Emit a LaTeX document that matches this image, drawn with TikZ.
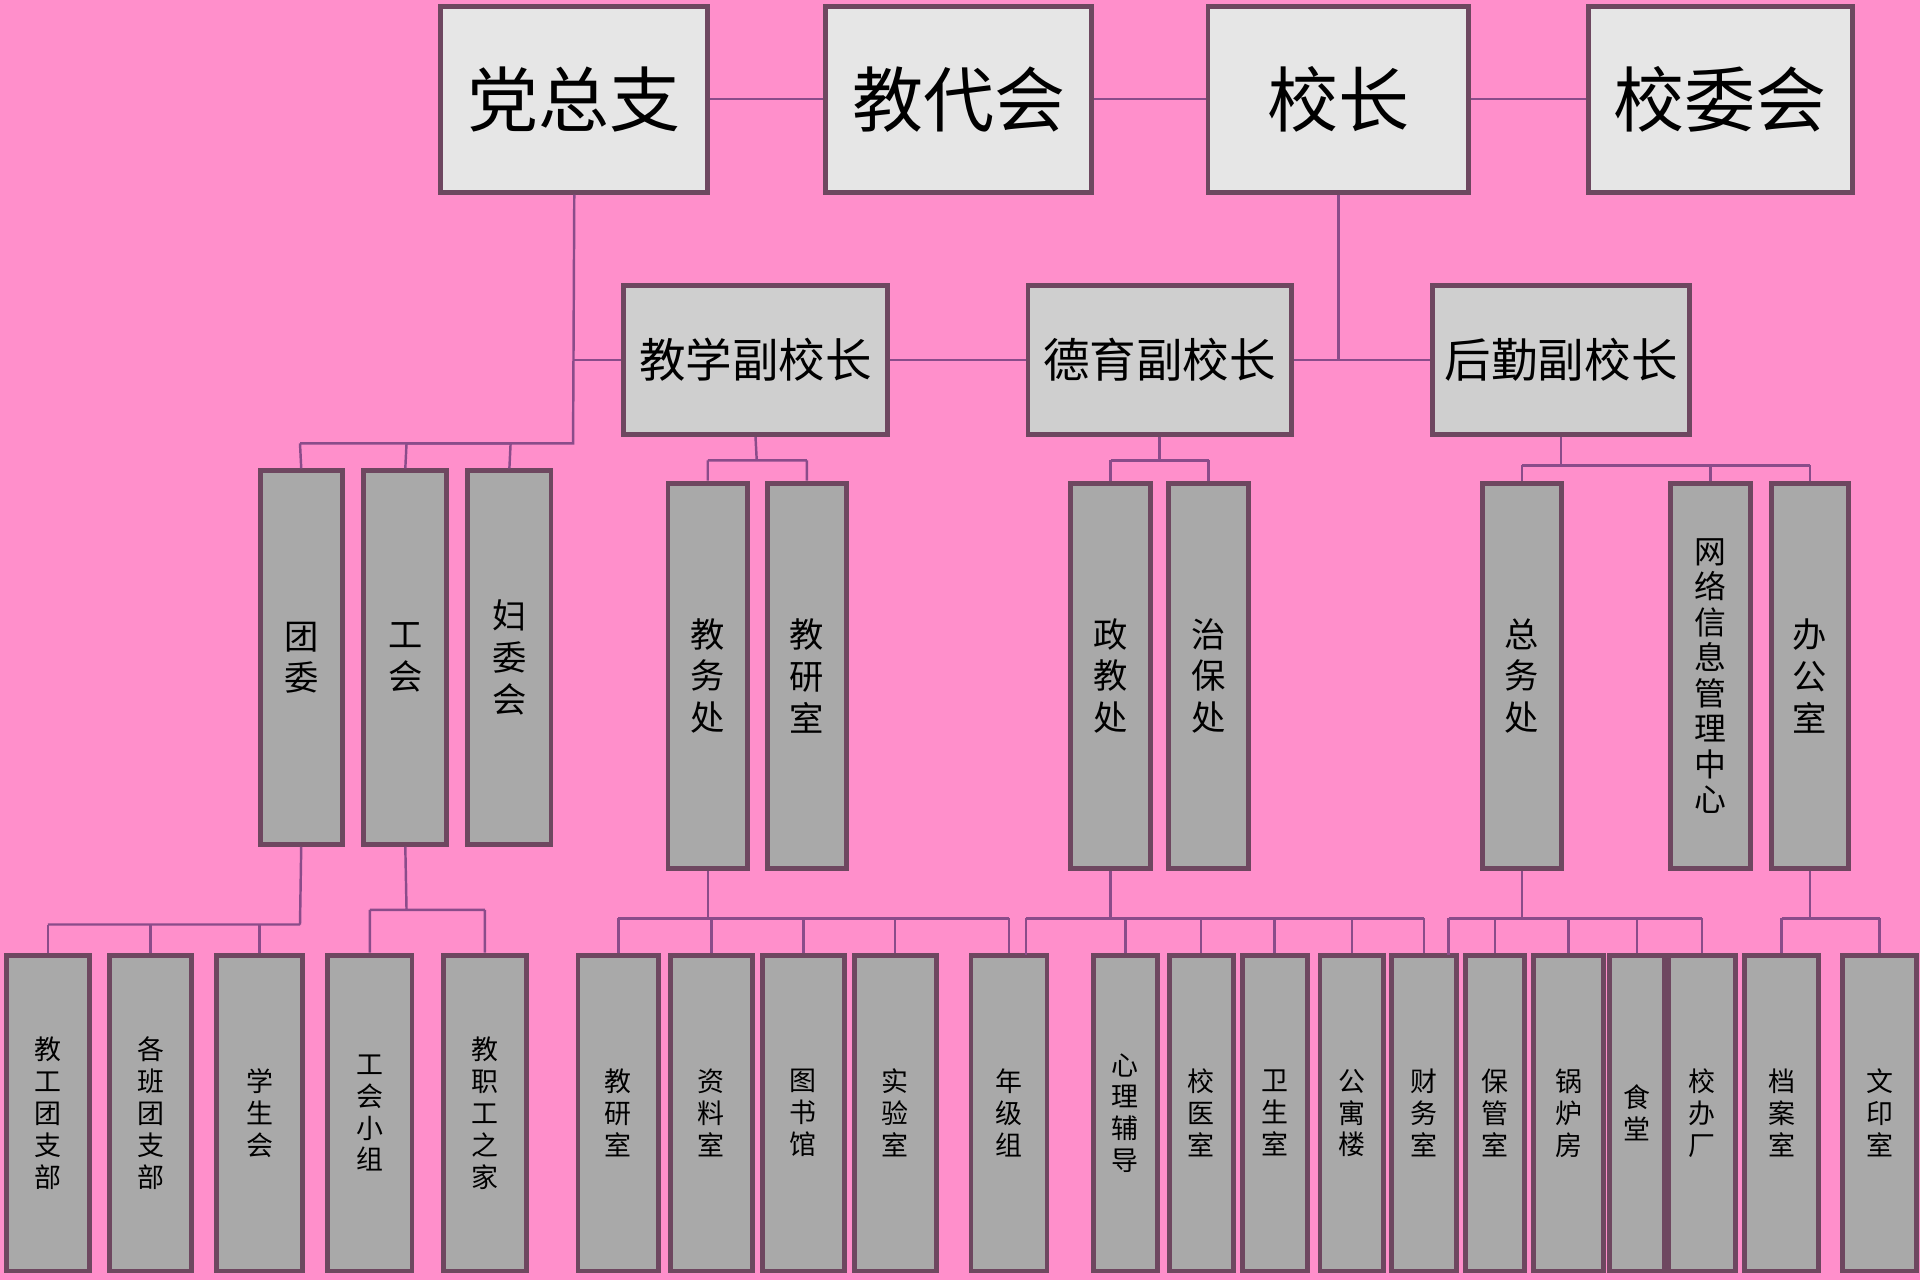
\documentclass[tikz,border=0pt]{standalone}
\usepackage{fontspec}
\setmainfont{Noto Sans CJK SC}
\begin{document}
\begin{tikzpicture}[x=1pt,y=-1pt,
 box/.style={draw=boxline,line width=4pt,fill=boxfill,inner sep=0pt},
 ln/.style={draw=lncol,line width=2pt},
 tlt/.style={font=\fontsize{58}{60}\selectfont},
 mid/.style={font=\fontsize{38}{40}\selectfont},
 thr/.style={font=\fontsize{28}{34}\selectfont,align=center},
 bot/.style={font=\fontsize{22}{26}\selectfont,align=center}]
\definecolor{bg}{HTML}{FF8FCB}
\definecolor{boxline}{HTML}{6E4760}
\definecolor{boxfill}{HTML}{A9A9A9}
\definecolor{topfill}{HTML}{E6E6E6}
\definecolor{midfill}{HTML}{CFCFCF}
\definecolor{lncol}{HTML}{8A4C8A}
\fill[bg] (0,0) rectangle (1568,1045);
\useasboundingbox (0,0) rectangle (1568,1045);
% helper macro for boxes: name, x1,y1,x2,y2
\newcommand\bx[7]{\node[box,fill=#6,minimum width=#4-#2,minimum height=#5-#3] (#1) at ({(#2+#4)/2},{(#3+#5)/2}) {}; \node[#7] at (#1) {\textbf{}}; }
% top
\node[box,fill=topfill,minimum width=218,minimum height=152,tlt] (a1) at (469,81) {党总支};
\node[box,fill=topfill,minimum width=217,minimum height=152,tlt] (a2) at (783,81) {教代会};
\node[box,fill=topfill,minimum width=213,minimum height=152,tlt] (a3) at (1093,81) {校长};
\node[box,fill=topfill,minimum width=216,minimum height=152,tlt] (a4) at (1405,81) {校委会};
\draw[ln] (a1) -- (a2) (a2) -- (a3) (a3) -- (a4);
% second
\node[box,fill=midfill,minimum width=215,minimum height=122,mid] (b1) at (617,294) {教学副校长};
\node[box,fill=midfill,minimum width=215,minimum height=122,mid] (b2) at (947,294) {德育副校长};
\node[box,fill=midfill,minimum width=210,minimum height=122,mid] (b3) at (1275,294) {后勤副校长};
\coordinate (j1) at (1093,294);
\coordinate (j2) at (468,294);
\draw[ln] (b1) -- (b2) (b2) -- (b3);
\draw[ln] (a3.south) -- (j1);
\draw[ln] (a1.south) -- (468,362) -- (245,362);
\draw[ln] (j2) -- (b1.west);
% third row
\newcommand\tb[5]{\node[box,minimum width=#3,minimum height=#4,thr] (#1) at #2 {#5};}
\tb{c1}{(246,537)}{67}{305}{团\\委}
\tb{c2}{(331,537)}{68}{305}{工\\会}
\tb{c3}{(416,537)}{68}{305}{妇\\委\\会}
\tb{c4}{(578,552)}{65}{315}{教\\务\\处}
\tb{c5}{(659,552)}{65}{315}{教\\研\\室}
\tb{c6}{(907,552)}{65}{315}{政\\教\\处}
\tb{c7}{(987,552)}{65}{315}{治\\保\\处}
\tb{c8}{(1243,552)}{65}{315}{总\\务\\处}
\node[box,minimum width=65,minimum height=315,font=\fontsize{26}{29}\selectfont,align=center] (c9) at (1397,552) {网\\络\\信\\息\\管\\理\\中\\心};
\tb{c10}{(1478,552)}{63}{315}{办\\公\\室}
\draw[ln] (245,362) -- (c1.north);
\draw[ln] (332,362) -- (c2.north) (417,362) -- (c3.north) (332,362) -- (417,362);
\draw[ln] (b1.south) -- (618,376) (578,376) -- (659,376) (578,376) -- (c4.north) (659,376) -- (c5.north);
\draw[ln] (b2.south) -- (947,376) (907,376) -- (987,376) (907,376) -- (c6.north) (987,376) -- (c7.north);
\draw[ln] (b3.south) -- (1275,380) (1243,380) -- (1478,380) (1243,380) -- (c8.north) (1397,380) -- (c9.north) (1478,380) -- (c10.north);
% bottom row
\newcommand\db[4]{\node[box,minimum width=#3,minimum height=258,bot] (#1) at (#2,909) {#4};}
\db{d1}{39}{68}{教\\工\\团\\支\\部}
\db{d2}{123}{67}{各\\班\\团\\支\\部}
\db{d3}{212}{70}{学\\生\\会}
\db{d4}{302}{69}{工\\会\\小\\组}
\db{d5}{396}{68}{教\\职\\工\\之\\家}
\db{d6}{505}{66}{教\\研\\室}
\db{d7}{581}{67}{资\\料\\室}
\db{d8}{656}{67}{图\\书\\馆}
\db{d9}{731}{67}{实\\验\\室}
\db{d10}{824}{62}{年\\级\\组}
\db{d11}{919}{52}{心\\理\\辅\\导}
\db{d12}{981}{52}{校\\医\\室}
\db{d13}{1041}{53}{卫\\生\\室}
\db{d14}{1104}{52}{公\\寓\\楼}
\db{d15}{1163}{53}{财\\务\\室}
\db{d16}{1221}{48}{保\\管\\室}
\db{d17}{1281}{57}{锅\\炉\\房}
\db{d18}{1337}{45}{食\\堂}
\db{d19}{1390}{55}{校\\办\\厂}
\db{d20}{1455}{60}{档\\案\\室}
\db{d21}{1535}{60}{文\\印\\室}
% bottom connectors
\draw[ln] (c1.south) -- (245,755) (39,755) -- (245,755);
\foreach \n/\x in {d1/39,d2/123,d3/212}{\draw[ln] (\x,755) -- (\n.north);}
\draw[ln] (c2.south) -- (332,743) (302,743) -- (396,743) (302,743) -- (d4.north) (396,743) -- (d5.north);
\draw[ln] (c4.south) -- (578,750) (505,750) -- (824,750);
\foreach \n/\x in {d6/505,d7/581,d8/656,d9/731,d10/824}{\draw[ln] (\x,750) -- (\n.north);}
\draw[ln] (c6.south) -- (907,750) (838,750) -- (1163,750);
\foreach \n/\x in {d11/919,d12/981,d13/1041,d14/1104,d15/1163}{\draw[ln] (\x,750) -- (\n.north);}
\draw[ln] (838,750) -- (838,780);
\draw[ln] (c8.south) -- (1243,750) (1183,750) -- (1390,750) (1183,750) -- (1183,780);
\foreach \n/\x in {d16/1221,d17/1281,d18/1337,d19/1390}{\draw[ln] (\x,750) -- (\n.north);}
\draw[ln] (c10.south) -- (1478,750) (1455,750) -- (1535,750) (1455,750) -- (d20.north) (1535,750) -- (d21.north);
\end{tikzpicture}
\end{document}
